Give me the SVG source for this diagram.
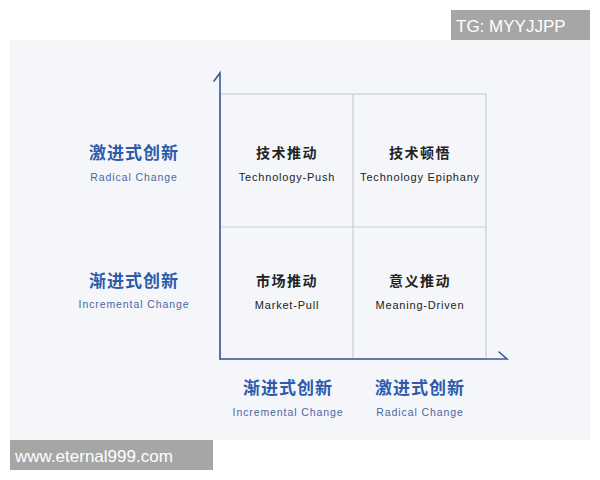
<svg xmlns="http://www.w3.org/2000/svg" width="600" height="480" viewBox="0 0 600 480">
<style>
.zh{font-family:"Noto Sans CJK SC","Noto Sans",sans-serif;font-weight:bold;text-anchor:middle}
.q{font-size:14px;fill:#222;letter-spacing:1.5px}
.ax{font-size:17px;fill:#2d5bab;letter-spacing:1px}
.en{font-family:"Liberation Sans","DejaVu Sans",sans-serif;text-anchor:middle}
.qe{font-size:11px;fill:#222;letter-spacing:0.8px}
.axe{font-size:10.5px;fill:#4a66a4;letter-spacing:0.9px}
.grid{fill:none;stroke:#c9cdd5;stroke-width:1.2}
.axis{fill:none;stroke:#3b5a98;stroke-width:1.6;stroke-linecap:round}
.wm{font-family:"Liberation Sans",Arial,sans-serif;fill:#fff}
</style>
<rect width="600" height="480" fill="#fff"/>
<rect x="10" y="40" width="580" height="400" fill="#f4f6f9"/>
<g id="grid">
<rect class="grid" x="220" y="94" width="266" height="265"/>
<line class="grid" x1="353" y1="94" x2="353" y2="359"/>
<line class="grid" x1="220" y1="227" x2="486" y2="227"/>
</g>
<g id="connectors">
<path class="axis" d="M220,359 V73 L214,81"/>
<path class="axis" d="M220,359 H507 L499,352"/>
</g>
<g id="q-tech-push">
<text class="zh q" x="287" y="158">技术推动</text>
<text class="en qe" x="287" y="181">Technology-Push</text>
</g>
<g id="q-tech-epiphany">
<text class="zh q" x="420" y="158">技术顿悟</text>
<text class="en qe" x="420" y="181">Technology Epiphany</text>
</g>
<g id="q-market-pull">
<text class="zh q" x="287" y="286">市场推动</text>
<text class="en qe" x="287" y="309">Market-Pull</text>
</g>
<g id="q-meaning-driven">
<text class="zh q" x="420" y="286">意义推动</text>
<text class="en qe" x="420" y="309">Meaning-Driven</text>
</g>
<g id="y-radical">
<text class="zh ax" x="134" y="159">激进式创新</text>
<text class="en axe" x="134" y="181">Radical Change</text>
</g>
<g id="y-incremental">
<text class="zh ax" x="134" y="287">渐进式创新</text>
<text class="en axe" x="134" y="308">Incremental Change</text>
</g>
<g id="x-incremental">
<text class="zh ax" x="288" y="394">渐进式创新</text>
<text class="en axe" x="288" y="416">Incremental Change</text>
</g>
<g id="x-radical">
<text class="zh ax" x="420" y="394">激进式创新</text>
<text class="en axe" x="420" y="416">Radical Change</text>
</g>
<g id="watermarks">
<rect x="451" y="10" width="139" height="30" fill="#a6a6a6"/>
<text class="wm" x="456" y="32" font-size="17">TG: MYYJJPP</text>
<rect x="10" y="440" width="203" height="30" fill="#a6a6a6"/>
<text class="wm" x="15" y="462" font-size="17">www.eternal999.com</text>
</g>
</svg>
